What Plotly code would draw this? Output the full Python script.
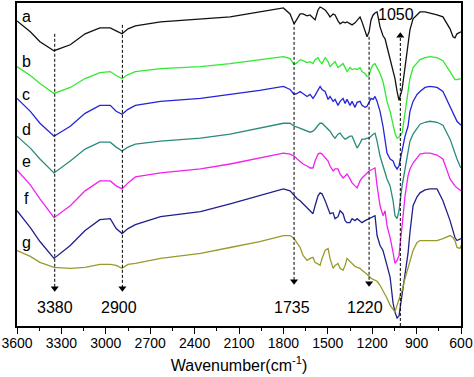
import plotly.graph_objects as go

# Wavenumber grid (cm^-1)
wavenumber = [3600, 3510, 3445, 3350, 3240, 3140, 3040, 2970, 2930, 2890, 2850, 2800, 2630, 2360, 2160,
              1960, 1800, 1755, 1728, 1707, 1687, 1667, 1640, 1620, 1600, 1586, 1566, 1552, 1539, 1518,
              1498, 1485, 1464, 1451, 1431, 1417, 1397, 1383, 1370, 1350, 1336, 1316, 1302, 1282, 1269,
              1248, 1235, 1221, 1208, 1194, 1181, 1167, 1147, 1127, 1113, 1100, 1079, 1059, 1046, 1032,
              1019, 998, 978, 958, 945, 924, 897, 877, 843, 809, 762, 722, 674, 654, 641, 627, 607, 600]

# Transmittance (a.u., stacked)
a_vals = [307, 296, 286, 277, 283, 294, 300, 300, 297, 294, 299, 302, 306, 309, 311,
          316, 320, 314, 304, 309, 314, 314, 312, 313, 310, 308, 318, 321, 320, 318,
          314, 311, 314, 313, 307, 304, 306, 305, 306, 304, 303, 305, 308, 311, 306,
          296, 291, 296, 308, 313, 315, 316, 301, 292, 289, 281, 269, 256, 249, 236,
          227, 238, 261, 286, 298, 309, 313, 316, 316, 315, 313, 311, 299, 291, 290, 294, 296, 296]
b_vals = [261, 252, 244, 234, 240, 249, 255, 256, 252, 249, 253, 256, 259, 261, 264,
          268, 271, 269, 263, 265, 268, 267, 265, 266, 264, 268, 270, 266, 264, 270,
          266, 261, 264, 266, 260, 262, 264, 260, 256, 260, 258, 259, 258, 260, 256,
          254, 251, 252, 259, 263, 264, 260, 254, 246, 236, 226, 216, 201, 194, 189,
          190, 194, 216, 238, 249, 260, 264, 268, 270, 271, 270, 267, 256, 251, 248, 248, 249, 249]
c_vals = [229, 216, 204, 191, 201, 214, 222, 222, 216, 213, 218, 222, 226, 229, 233,
          237, 241, 238, 233, 234, 236, 234, 231, 233, 229, 232, 238, 241, 238, 236,
          228, 231, 226, 228, 222, 226, 229, 224, 228, 222, 226, 220, 225, 226, 222,
          220, 221, 226, 229, 228, 231, 226, 216, 201, 188, 174, 168, 166, 161, 158,
          161, 176, 191, 201, 216, 226, 233, 236, 240, 241, 240, 236, 221, 214, 209, 206, 203, 202]
d_vals = [191, 179, 168, 154, 166, 178, 185, 185, 180, 176, 180, 183, 186, 189, 193,
          199, 204, 204, 201, 200, 199, 198, 196, 195, 196, 198, 202, 204, 204, 201,
          198, 196, 191, 189, 193, 194, 190, 188, 189, 191, 191, 184, 179, 184, 188,
          188, 189, 189, 191, 193, 194, 186, 171, 161, 154, 148, 141, 126, 111, 108,
          116, 141, 158, 176, 186, 193, 199, 203, 205, 206, 205, 202, 188, 179, 174, 168, 161, 159]
e_vals = [157, 142, 128, 109, 121, 136, 146, 146, 141, 138, 144, 150, 154, 158, 163,
          169, 174, 173, 171, 168, 165, 163, 161, 159, 159, 166, 173, 174, 173, 169,
          166, 161, 156, 158, 158, 153, 149, 151, 153, 148, 144, 141, 139, 146, 149,
          152, 154, 156, 157, 158, 159, 141, 121, 111, 116, 101, 89, 74, 63, 66,
          71, 101, 131, 151, 158, 164, 169, 173, 174, 174, 172, 168, 148, 143, 141, 139, 136, 136]
f_vals = [116, 99, 85, 68, 81, 96, 107, 108, 98, 93, 98, 102, 110, 115, 123,
          131, 138, 136, 131, 128, 126, 123, 119, 116, 113, 121, 131, 134, 133, 126,
          119, 113, 114, 108, 110, 116, 113, 106, 104, 104, 108, 106, 108, 105, 104,
          106, 107, 108, 109, 110, 111, 91, 81, 76, 69, 61, 49, 23, 14, 8,
          10, 31, 56, 73, 94, 121, 130, 134, 137, 138, 138, 126, 106, 94, 89, 86, 88, 88]
g_vals = [76, 70, 64, 59, 58, 59, 62, 62, 61, 58, 62, 63, 68, 73, 79,
          85, 91, 91, 88, 83, 79, 71, 66, 68, 69, 64, 62, 61, 68, 76,
          78, 68, 58, 61, 63, 58, 56, 61, 68, 65, 62, 60, 59, 58, 56,
          54, 52, 50, 48, 47, 46, 45, 41, 36, 32, 28, 21, 16, 14, 21,
          26, 36, 48, 59, 66, 76, 84, 86, 86, 86, 86, 88, 91, 89, 86, 79, 78, 81]

series_names = ["a", "b", "c", "d", "e", "f", "g"]
series_vals = [a_vals, b_vals, c_vals, d_vals, e_vals, f_vals, g_vals]
series_colors = ["#111111", "#33e833", "#2424d8", "#2a8a7c", "#f022f0", "#20208a", "#9a9a2c"]
label_y = [311, 266, 233, 198, 166, 128, 84]

# Marked bands: label text, label position, drawn line position, line top, arrow tip
band_labels = ["3380", "2900", "1735", "1220"]
band_label_x = [3345, 2908, 1742, 1248]
band_pos = [3345, 2888, 1728, 1221]
band_top = [294, 303, 306, 291]
band_tip = [34, 34, 41, 39]
up_label = "1050"
up_label_x = 1040
up_pos = 1010
up_tip = 296

FONT = "Liberation Sans, Arial, sans-serif"

fig = go.Figure()
for name, vals, col in zip(series_names, series_vals, series_colors):
    fig.add_trace(go.Scatter(x=wavenumber, y=vals, mode="lines", name=name,
                             line=dict(color=col, width=1.3), showlegend=False))

for name, ly in zip(series_names, label_y):
    fig.add_annotation(x=3537, y=ly, text=name, showarrow=False,
                       font=dict(family=FONT, size=16, color="black"))

for lab, lx, pos, top, tip in zip(band_labels, band_label_x, band_pos, band_top, band_tip):
    fig.add_shape(type="line", x0=pos, x1=pos, y0=top, y1=tip + 4,
                  line=dict(color="black", width=1, dash="3px,2px"))
    fig.add_annotation(x=lx, y=19, text=lab, showarrow=False,
                       font=dict(family=FONT, size=16, color="black"))

fig.add_trace(go.Scatter(x=band_pos, y=[t + 4 for t in band_tip], mode="markers",
                         marker=dict(symbol="triangle-down", size=7, color="black"),
                         showlegend=False, hoverinfo="skip"))

fig.add_shape(type="line", x0=up_pos, x1=up_pos, y0=0, y1=up_tip - 4,
              line=dict(color="black", width=1, dash="3px,2px"))
fig.add_trace(go.Scatter(x=[up_pos], y=[up_tip - 4], mode="markers",
                         marker=dict(symbol="triangle-up", size=7, color="black"),
                         showlegend=False, hoverinfo="skip"))
fig.add_annotation(x=up_label_x, y=313, text=up_label, showarrow=False,
                   font=dict(family=FONT, size=16, color="black"))

fig.update_layout(
    width=474, height=377,
    margin=dict(l=17, r=13, t=1, b=51),
    paper_bgcolor="white", plot_bgcolor="white",
    font=dict(family=FONT, color="black"),
    xaxis=dict(range=[3600, 600], dtick=300, tick0=600, ticks="outside", ticklen=6,
               tickwidth=1.2, tickcolor="black", showline=True, linecolor="black",
               linewidth=1.5, mirror=True, showgrid=False, zeroline=False,
               ticklabelstandoff=-3,
               tickfont=dict(size=14, family=FONT, color="black"),
               minor=dict(dtick=150, ticks="outside", ticklen=3, tickcolor="black"),
               title=dict(text="Wavenumber(cm<sup>-1</sup>)", standoff=10,
                          font=dict(size=16, family=FONT, color="black"))),
    yaxis=dict(range=[0, 325], showticklabels=False, ticks="", showline=True,
               linecolor="black", linewidth=1.5, mirror=True, showgrid=False,
               zeroline=False),
)

fig.write_html("out.html", config={"displayModeBar": False},
               post_script="document.body.style.margin='0';")
